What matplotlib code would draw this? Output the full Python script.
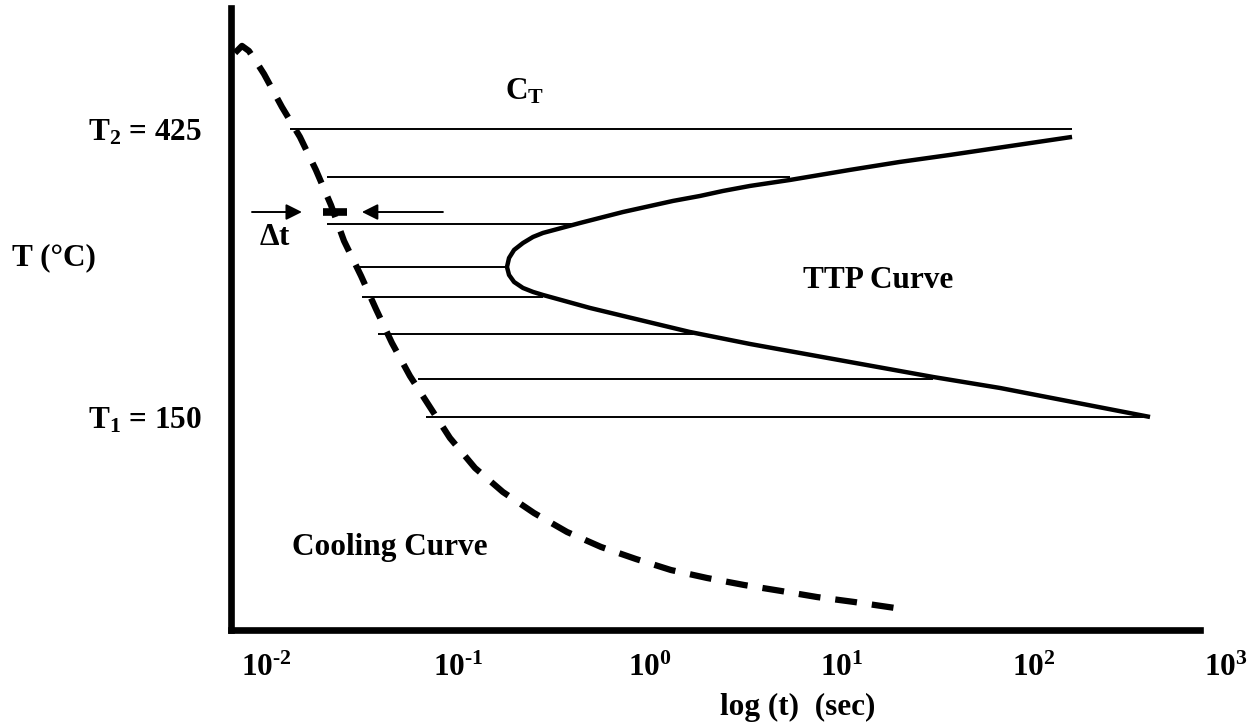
import numpy as np
import matplotlib
matplotlib.use("Agg")
import matplotlib.pyplot as plt

plt.rcParams['font.family'] = ['Liberation Serif', 'DejaVu Serif']
plt.rcParams['font.weight'] = 'bold'
plt.rcParams['axes.labelweight'] = 'bold'
plt.rcParams['mathtext.fontset'] = 'custom'
plt.rcParams['mathtext.rm'] = 'Liberation Serif:bold'
plt.rcParams['mathtext.it'] = 'Liberation Serif:bold'
plt.rcParams['mathtext.bf'] = 'Liberation Serif:bold'
plt.rcParams['mathtext.default'] = 'rm'

# cooling curve (time in s, temperature in C)
cool_t = [0.0069, 0.0075, 0.00815, 0.00898, 0.00977, 0.01211, 0.01503, 0.0182,
          0.0218, 0.0255, 0.0313, 0.0374, 0.0453, 0.0562, 0.0714, 0.0908,
          0.1227, 0.1714, 0.249, 0.370, 0.556, 0.845, 1.285, 1.98, 3.09,
          4.81, 7.41, 11.55, 20.5]
cool_T = [497.6, 504.3, 499.5, 488.0, 477.5, 446.0, 417.4, 385.9,
          352.4, 318.1, 284.6, 253.1, 220.7, 189.2, 159.6, 130.0,
          101.3, 78.4, 58.3, 40.2, 25.9, 14.4, 3.9, -3.7, -10.4,
          -16.1, -21.9, -26.6, -33.3]

# TTP curve, upper end -> nose -> lower end
ttp_t = [157.8, 36.5, 20.0, 11.0, 5.36, 3.32, 2.40, 1.82, 1.32, 0.723,
         0.432, 0.277, 0.246, 0.218, 0.196, 0.1845, 0.180,
         0.1845, 0.196, 0.218, 0.246, 0.277, 0.487, 0.887, 1.61, 3.32,
         11.0, 29.8, 66.5, 402]
ttp_T = [417.4, 400.2, 393.5, 385.9, 376.3, 370.6, 365.8, 361.0, 356.3, 345.7,
         335.2, 325.7, 321.9, 316.1, 309.5, 301.8, 293.2,
         285.6, 278.9, 273.2, 269.4, 266.5, 254.1, 242.6, 231.2, 219.7,
         202.5, 188.2, 177.7, 150.0]

# isothermal steps
iso_T = [425, 379.2, 334.3, 293.2, 264.6, 229.3, 186.3, 150.0]
iso_start = [0.0133, 0.0208, 0.0208, 0.0301, 0.0316, 0.0383, 0.0619, 0.0681]
iso_end = [158, 5.36, 0.432, 0.176, 0.277, 1.67, 29.8, 370]

xticks = [1e-2, 1e-1, 1e0, 1e1, 1e2, 1e3]
xticklabels = [r'$10^{\text{-}2}$', r'$10^{\text{-}1}$', '$10^{0}$',
               '$10^{1}$', '$10^{2}$', '$10^{3}$']
yticks = [150, 425]
yticklabels = ['T$_1$ = 150', 'T$_2$ = 425']

fs = 22.5

fig = plt.figure(figsize=(12.5, 7.25), dpi=100)
ax = fig.add_axes([0.1848, 0.131, 0.8037, 0.858])

ax.plot(cool_t, cool_T, color='k', lw=4.5, dashes=(3.5, 2.4))
ax.plot(ttp_t, ttp_T, color='k', lw=3.2, solid_capstyle='butt',
        solid_joinstyle='round')
ax.hlines(iso_T, iso_start, iso_end, color='k', lw=1.4)

# delta t arrows
yarr = 345.7
ax.annotate('', xy=(0.0154, yarr), xytext=(0.00846, yarr),
            arrowprops=dict(arrowstyle='-|>', color='k', lw=1.4,
                            mutation_scale=24, shrinkA=0, shrinkB=0))
ax.annotate('', xy=(0.0316, yarr), xytext=(0.0835, yarr),
            arrowprops=dict(arrowstyle='-|>', color='k', lw=1.4,
                            mutation_scale=24, shrinkA=0, shrinkB=0))
ax.plot([0.0198, 0.0264], [yarr, yarr], color='k', lw=5.5, solid_capstyle='butt')

ax.text(0.01114, 320.9, r'$\Delta$t', fontsize=fs, ha='center', va='center')
ax.text(0.176, 452.7, 'C$_T$', fontsize=fs, ha='left', va='baseline')
ax.text(6.27, 273.2, 'TTP Curve', fontsize=fs, ha='left', va='baseline')
ax.text(0.01365, 18.2, 'Cooling Curve', fontsize=fs, ha='left', va='baseline')

ax.set_xscale('log')
ax.set_xlim(10 ** -2.182, 10 ** 3.05)
ax.set_ylim(-53.4, 540.5)
ax.set_xticks(xticks)
ax.set_xticklabels(xticklabels, fontsize=fs)
ax.minorticks_off()
ax.set_yticks(yticks)
ax.set_yticklabels(yticklabels, fontsize=fs)
ax.tick_params(axis='x', length=0, pad=17)
ax.tick_params(axis='y', length=0, pad=21)

ax.set_xlabel('log (t)  (sec)', fontsize=fs, va='center')
ax.xaxis.set_label_coords(0.564, -0.125)
ax.set_ylabel('T (°C)', fontsize=fs, rotation=0, ha='left', va='center')
ax.yaxis.set_label_coords(-0.218, 0.598)

for s in ['top', 'right']:
    ax.spines[s].set_visible(False)
for s in ['left', 'bottom']:
    ax.spines[s].set_linewidth(4.8)
ax.spines['bottom'].set_bounds(10 ** -2.182, 10 ** 2.865)

fig.savefig('out.png', dpi=100)
